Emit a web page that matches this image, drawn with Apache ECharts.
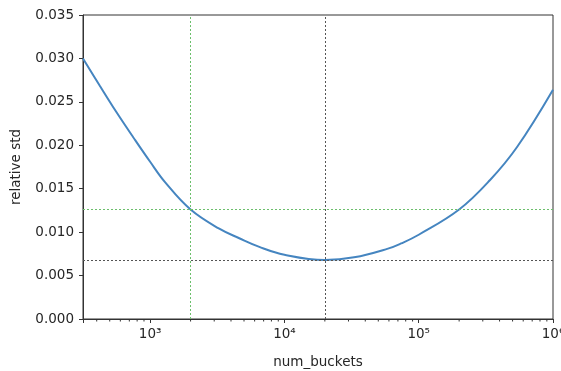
<!DOCTYPE html>
<html>
<head>
<meta charset="utf-8">
<script src="https://cdn.jsdelivr.net/npm/echarts@6/dist/echarts.min.js"></script>
<style>
  html, body { margin: 0; padding: 0; background: #fff; }
  #chart { width: 561px; height: 371px; }
</style>
</head>
<body>
<div id="chart"></div>
<script>
// num_buckets (log x)
const buckets = [316, 424, 562, 750, 1000, 1300, 2000, 3270, 4610, 6500, 10000, 20000, 33000, 59000, 74000, 100000, 200000, 340000, 540000, 1000000]
const relStd = [0.0300, 0.0268, 0.0238, 0.0209, 0.0181, 0.0157, 0.0126, 0.0104, 0.0093, 0.0083, 0.0074, 0.0068, 0.0071, 0.0081, 0.0087, 0.0097, 0.0126, 0.0160, 0.0198, 0.0264]

// reference lines
const greenX = 2000
const greenY = 0.0126
const bestX = 20000
const bestY = 0.0068

const xMin = Math.pow(10, 2.5)
const xMax = 1e6
const minorMult = [2, 3, 4, 5, 6, 7, 8, 9]
const minorDecades = [100, 1000, 10000, 100000]

const minorTicks = []
minorDecades.forEach((d) => {
  minorMult.forEach((m) => {
    const v = d * m
    if (v > xMin && v < xMax) minorTicks.push([v, 0])
  })
})

const sup = { 2: '²', 3: '³', 4: '⁴', 5: '⁵', 6: '⁶' }
const textColor = '#262626'
const axisColor = '#333'
const green = '#6cbf6c'
const grey = '#555'
const font = 'DejaVu Sans'

const chart = echarts.init(document.getElementById('chart'))

const refLine = (color, data) => ({
  type: 'line',
  data: [],
  silent: true,
  markLine: {
    silent: true,
    symbol: 'none',
    precision: 6,
    label: { show: false },
    animation: false,
    lineStyle: { color: color, width: 1, type: [2, 2] },
    data: data
  }
})

chart.setOption({
  animation: false,
  grid: {
    left: 83, right: 8, top: 15, bottom: 52,
    outerBoundsMode: 'none',
    containLabel: false,
    show: true, borderColor: axisColor, borderWidth: 1
  },
  xAxis: {
    type: 'log',
    logBase: 10,
    min: xMin,
    max: xMax,
    name: 'num_buckets',
    nameLocation: 'middle',
    nameGap: 36,
    nameTextStyle: { color: textColor, fontSize: 13.5, fontFamily: font },
    axisLine: { show: true, lineStyle: { color: axisColor, width: 1 } },
    axisTick: { show: true, inside: false, length: 4, lineStyle: { color: axisColor } },
    splitLine: { show: false },
    axisLabel: {
      color: textColor,
      fontSize: 13.5,
      fontFamily: font,
      margin: 8,
      formatter: (v) => {
        const e = Math.log10(v)
        if (Math.abs(e - Math.round(e)) > 1e-6) return ''
        return '10' + sup[Math.round(e)]
      }
    }
  },
  yAxis: {
    type: 'value',
    min: 0,
    max: 0.035,
    interval: 0.005,
    name: 'relative std',
    nameLocation: 'middle',
    nameRotate: 90,
    nameGap: 60,
    nameTextStyle: { color: textColor, fontSize: 13.5, fontFamily: font },
    axisLine: { show: true, lineStyle: { color: axisColor, width: 1 } },
    axisTick: { show: true, inside: false, length: 4, lineStyle: { color: axisColor } },
    splitLine: { show: false },
    axisLabel: {
      color: textColor,
      fontSize: 13.5,
      fontFamily: font,
      margin: 9,
      formatter: (v) => v.toFixed(3)
    }
  },
  series: [
    refLine(green, [{ xAxis: greenX }, { yAxis: greenY }]),
    refLine(grey, [{ xAxis: bestX }, { yAxis: bestY }]),
    {
      type: 'line',
      smooth: 0.4,
      showSymbol: false,
      symbol: 'none',
      data: buckets.map((b, i) => [b, relStd[i]]),
      lineStyle: { width: 2, color: '#4585c0' },
      z: 3
    },
    {
      type: 'custom',
      silent: true,
      clip: false,
      data: minorTicks,
      renderItem: (params, api) => {
        const p = api.coord([api.value(0), 0])
        return {
          type: 'line',
          shape: { x1: p[0], y1: p[1], x2: p[0], y2: p[1] + 2.5 },
          style: { stroke: axisColor, lineWidth: 1 }
        }
      }
    }
  ]
})
</script>
</body>
</html>
